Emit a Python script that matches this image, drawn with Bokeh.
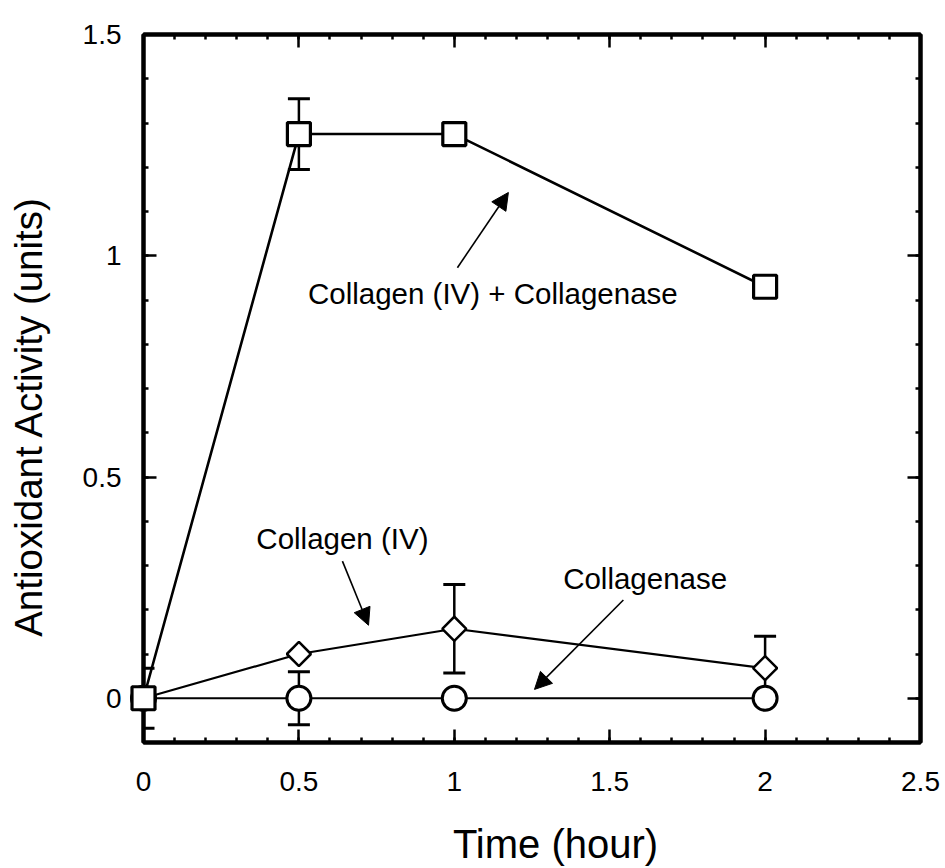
import numpy as np
from bokeh.plotting import figure
from bokeh.models import (Range1d, FixedTicker, LinearAxis, Label, Arrow, NormalHead,
                          Whisker, TeeHead, ColumnDataSource)
from bokeh.core.properties import value
from bokeh.embed import file_html
from bokeh.resources import INLINE

# ---- data ----
time_h = [0, 0.5, 1, 2]
combo = [0, 1.275, 1.275, 0.93]          # Collagen (IV) + Collagenase
combo_err = [0.068, 0.08, 0, 0]
collagen = [0, 0.1, 0.157, 0.068]        # Collagen (IV)
collagen_err = [0, 0, 0.1, 0.072]
collagenase = [0, 0, 0, 0]               # Collagenase
collagenase_err = [0, 0.06, 0, 0]

x_ticks = [0, 0.5, 1, 1.5, 2, 2.5]
x_tick_labels = ["0", "0.5", "1", "1.5", "2", "2.5"]
y_ticks = [0, 0.5, 1, 1.5]
y_tick_labels = ["0", "0.5", "1", "1.5"]

x_title = "Time (hour)"
y_title = "Antioxidant Activity (units)"
label_combo = "Collagen (IV) + Collagenase"
label_collagen = "Collagen (IV)"
label_collagenase = "Collagenase"

FONT = "Liberation Sans"

p = figure(width=945, height=868, x_range=Range1d(0, 2.5), y_range=Range1d(-0.1, 1.5),
           output_backend="svg", toolbar_location=None,
           min_border_left=143, min_border_right=25, min_border_top=34, min_border_bottom=126,
           background_fill_color="white", border_fill_color="white")
p.grid.visible = False
p.outline_line_color = "black"
p.outline_line_width = 4

x_minor = [round(v, 2) for v in np.arange(0, 2.501, 0.1)]
y_minor = [round(v, 2) for v in np.arange(-0.1, 1.501, 0.1)]


def style_axis(ax, ticks, minor, labels, show):
    ax.ticker = FixedTicker(ticks=ticks, minor_ticks=minor)
    ax.axis_line_width = 4
    ax.axis_line_color = "black"
    ax.major_tick_in = 13
    ax.major_tick_out = 0
    ax.minor_tick_in = 5
    ax.minor_tick_out = 0
    ax.major_tick_line_width = 2.5
    ax.minor_tick_line_width = 2.5
    ax.major_tick_line_color = "black"
    ax.minor_tick_line_color = "black"
    ax.major_label_text_font = FONT
    if show:
        ax.major_label_overrides = dict(zip(ticks, labels))
        ax.major_label_text_font_size = "28px"
        ax.major_label_text_color = "black"
    else:
        ax.major_label_overrides = {t: "" for t in ticks}
        ax.major_label_text_font_size = "1px"
        ax.major_label_text_color = None
        ax.major_label_standoff = 0


xb = p.xaxis[0]
yl = p.yaxis[0]
style_axis(xb, x_ticks, x_minor, x_tick_labels, True)
style_axis(yl, y_ticks, y_minor, y_tick_labels, True)
xb.major_label_standoff = 29
yl.major_label_standoff = 22

xt = LinearAxis()
style_axis(xt, x_ticks, x_minor, x_tick_labels, False)
p.add_layout(xt, "above")
yr = LinearAxis()
style_axis(yr, y_ticks, y_minor, y_tick_labels, False)
p.add_layout(yr, "right")

# ---- axis titles (text glyphs on the overlay level, placed as in the reference) ----
p.text(x=[1.3256], y=[-0.3303], text=[x_title], text_align="center",
       text_baseline="alphabetic", text_font=value(FONT), text_font_size=value("40px"),
       text_color="black", level="overlay")
p.text(x=[-0.370], y=[0.6369], text=[y_title], angle=np.pi / 2, text_align="center",
       text_baseline="alphabetic", text_font=value(FONT), text_font_size=value("38.5px"),
       text_color="black", level="overlay")

# ---- error bars ----
for ys, es in ((combo, combo_err), (collagen, collagen_err), (collagenase, collagenase_err)):
    xs = [t for t, e in zip(time_h, es) if e > 0]
    up = [y + e for y, e in zip(ys, es) if e > 0]
    lo = [y - e for y, e in zip(ys, es) if e > 0]
    src = ColumnDataSource(dict(x=xs, upper=up, lower=lo))
    w = Whisker(source=src, base="x", upper="upper", lower="lower", dimension="height",
                line_width=2.5, line_color="black",
                upper_head=TeeHead(size=22, line_width=3, line_color="black"),
                lower_head=TeeHead(size=22, line_width=3, line_color="black"),
                level="annotation")
    p.add_layout(w)

# ---- lines ----
p.line(time_h, collagenase, line_width=2.2, line_color="black")
p.line(time_h, collagen, line_width=2.2, line_color="black")
p.line(time_h, combo, line_width=2.6, line_color="black")

# ---- markers ----
p.scatter(time_h, collagenase, marker="circle", size=24, fill_color="white",
          line_color="black", line_width=3, level="overlay")
p.scatter(time_h, collagen, marker="square", angle=np.pi / 4, size=17, fill_color="white",
          line_color="black", line_width=2.5, level="overlay")
p.scatter(time_h, combo, marker="square", size=23, fill_color="white",
          line_color="black", line_width=3.2, level="overlay")

# ---- annotations ----
for txt, lx, ly in ((label_combo, 1.124, 0.914), (label_collagen, 0.640, 0.360),
                    (label_collagenase, 1.614, 0.271)):
    p.add_layout(Label(x=lx, y=ly, text=txt, text_align="center", text_baseline="middle",
                       text_font=FONT, text_font_size="29.5px", text_color="black"))

for xs0, ys0, xe, ye in ((1.010, 0.973, 1.174, 1.143), (0.640, 0.310, 0.724, 0.165),
                         (1.544, 0.222, 1.258, 0.020)):
    p.add_layout(Arrow(x_start=xs0, y_start=ys0, x_end=xe, y_end=ye, line_width=1.6,
                       line_color="black",
                       end=NormalHead(size=17, fill_color="black", line_color="black", line_width=1)))

open("out.html", "w").write(file_html(p, INLINE))
